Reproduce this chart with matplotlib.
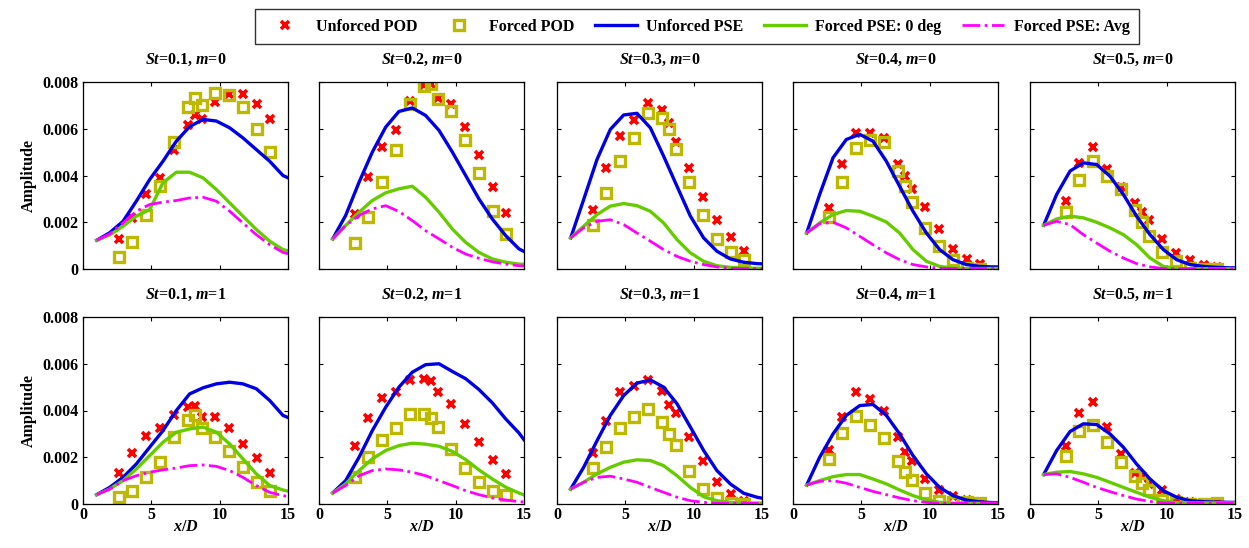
import numpy as np
import matplotlib
matplotlib.use("Agg")
import matplotlib.pyplot as plt

plt.rcParams['font.family'] = ['Liberation Serif', 'DejaVu Serif']
plt.rcParams['font.weight'] = 'bold'
plt.rcParams['mathtext.fontset'] = 'custom'
plt.rcParams['mathtext.rm'] = 'Liberation Serif:bold'
plt.rcParams['mathtext.it'] = 'Liberation Serif:bold:italic'
plt.rcParams['mathtext.bf'] = 'Liberation Serif:bold'

# ---------------- data ----------------
x_pod = [2.63, 3.62, 4.63, 5.63, 6.65, 7.65, 8.17, 8.7, 9.68, 10.7, 11.68, 12.7, 13.7]
x_pse = [1.0, 1.95, 2.93, 3.9, 4.88, 5.85, 6.83, 7.8, 8.78, 9.76, 10.73, 11.7, 12.68, 13.66, 14.63, 15.0]

st_list = ['0.1', '0.2', '0.3', '0.4', '0.5']
m_list = ['0', '1']

# values in units of 1e-3
# m = 0
unf_pod_m0 = [
    [1.29, 2.19, 3.19, 3.90, 5.07, 6.16, 6.60, 6.43, 7.16, 7.47, 7.47, 7.04, 6.43],
    [2.36, 3.93, 5.21, 5.96, 7.19, 7.86, 7.90, 7.30, 7.06, 6.07, 4.89, 3.49, 2.40],
    [2.54, 4.31, 5.71, 6.36, 7.11, 6.79, 6.26, 5.44, 4.30, 3.09, 2.11, 1.37, 0.76],
    [2.61, 4.51, 5.83, 5.83, 5.59, 4.50, 4.00, 3.44, 2.66, 1.71, 0.87, 0.43, 0.23],
    [2.93, 4.54, 5.21, 4.29, 3.51, 2.83, 2.43, 2.09, 1.29, 0.69, 0.40, 0.19, 0.09],
]
for_pod_m0 = [
    [0.50, 1.16, 2.33, 3.57, 5.44, 6.93, 7.33, 7.00, 7.51, 7.44, 6.94, 5.97, 5.00],
    [1.11, 2.23, 3.74, 5.10, 7.04, 7.83, 7.90, 7.29, 6.76, 5.54, 4.10, 2.50, 1.49],
    [1.87, 3.23, 4.64, 5.59, 6.69, 6.47, 6.00, 5.14, 3.71, 2.30, 1.30, 0.73, 0.37],
    [2.23, 3.73, 5.16, 5.50, 5.43, 4.19, 3.57, 2.86, 1.76, 0.97, 0.37, 0.04, 0.00],
    [2.44, 3.80, 4.64, 4.00, 3.44, 2.53, 2.01, 1.40, 0.73, 0.33, 0.04, 0.00, 0.00],
]
unf_pse_m0 = [
    [1.23, 1.55, 2.04, 2.90, 3.83, 4.61, 5.47, 6.09, 6.40, 6.33, 6.04, 5.61, 5.11, 4.61, 4.00, 3.90],
    [1.29, 2.29, 3.71, 5.00, 6.07, 6.74, 6.89, 6.57, 5.93, 5.00, 4.00, 3.00, 2.14, 1.43, 0.86, 0.75],
    [1.33, 2.97, 4.69, 5.97, 6.59, 6.66, 6.04, 4.83, 3.54, 2.26, 1.33, 0.76, 0.43, 0.29, 0.23, 0.22],
    [1.54, 3.19, 4.76, 5.54, 5.76, 5.47, 4.61, 3.54, 2.47, 1.54, 0.83, 0.40, 0.19, 0.11, 0.09, 0.09],
    [1.87, 3.19, 4.19, 4.54, 4.47, 3.97, 3.19, 2.26, 1.47, 0.83, 0.40, 0.19, 0.11, 0.07, 0.05, 0.05],
]
f0_pse_m0 = [
    [1.23, 1.45, 1.83, 2.26, 2.54, 3.69, 4.14, 4.14, 3.90, 3.40, 2.83, 2.26, 1.69, 1.19, 0.83, 0.78],
    [1.29, 1.86, 2.43, 2.93, 3.26, 3.43, 3.54, 3.07, 2.43, 1.71, 1.14, 0.71, 0.43, 0.29, 0.21, 0.20],
    [1.33, 1.83, 2.33, 2.69, 2.80, 2.71, 2.47, 1.97, 1.26, 0.69, 0.33, 0.14, 0.07, 0.04, 0.03, 0.03],
    [1.54, 1.97, 2.33, 2.50, 2.47, 2.26, 2.01, 1.54, 0.83, 0.33, 0.11, 0.04, 0.02, 0.02, 0.02, 0.02],
    [1.87, 2.14, 2.26, 2.19, 2.00, 1.76, 1.47, 1.04, 0.47, 0.11, 0.02, 0.01, 0.01, 0.01, 0.01, 0.01],
]
fa_pse_m0 = [
    [1.23, 1.50, 1.97, 2.47, 2.76, 2.86, 2.93, 3.04, 3.07, 2.90, 2.47, 1.97, 1.47, 1.04, 0.71, 0.65],
    [1.29, 1.86, 2.29, 2.57, 2.71, 2.46, 2.07, 1.64, 1.29, 0.93, 0.64, 0.46, 0.31, 0.21, 0.14, 0.13],
    [1.33, 1.76, 2.04, 2.11, 1.90, 1.54, 1.19, 0.83, 0.54, 0.33, 0.19, 0.09, 0.03, 0.02, 0.02, 0.02],
    [1.54, 1.94, 2.00, 1.76, 1.40, 1.04, 0.69, 0.40, 0.19, 0.09, 0.03, 0.02, 0.02, 0.02, 0.02, 0.02],
    [1.87, 2.04, 1.90, 1.47, 1.11, 0.76, 0.47, 0.23, 0.09, 0.02, 0.01, 0.01, 0.01, 0.01, 0.01, 0.01],
]
# m = 1
unf_pod_m1 = [
    [1.33, 2.17, 2.89, 3.26, 3.81, 4.14, 4.19, 3.74, 3.71, 3.24, 2.57, 1.96, 1.31],
    [2.47, 3.69, 4.54, 4.79, 5.29, 5.33, 5.26, 4.79, 4.26, 3.43, 2.67, 1.90, 1.29],
    [2.19, 3.54, 4.81, 5.03, 5.29, 4.83, 4.24, 3.90, 2.86, 1.83, 0.96, 0.43, 0.14],
    [2.29, 3.74, 4.81, 4.50, 3.96, 2.86, 2.24, 1.83, 1.07, 0.61, 0.36, 0.17, 0.10],
    [2.50, 3.89, 4.36, 3.29, 2.14, 1.31, 1.19, 0.86, 0.61, 0.21, 0.07, 0.04, 0.04],
]
for_pod_m1 = [
    [0.29, 0.57, 1.14, 1.81, 2.86, 3.61, 3.79, 3.24, 2.86, 2.26, 1.60, 0.96, 0.54],
    [1.17, 2.03, 2.74, 3.24, 3.83, 3.86, 3.67, 3.29, 2.36, 1.53, 0.96, 0.54, 0.39],
    [1.53, 2.43, 3.26, 3.74, 4.07, 3.50, 3.00, 2.54, 1.40, 0.64, 0.26, 0.04, 0.00],
    [1.93, 3.04, 3.76, 3.36, 2.83, 1.83, 1.36, 1.03, 0.46, 0.14, 0.07, 0.07, 0.03],
    [2.07, 3.14, 3.39, 2.67, 1.79, 1.19, 0.90, 0.60, 0.19, 0.07, 0.00, 0.00, 0.03],
]
unf_pse_m1 = [
    [0.40, 0.71, 1.14, 1.71, 2.43, 3.14, 4.00, 4.71, 4.97, 5.14, 5.21, 5.14, 4.93, 4.43, 3.79, 3.70],
    [0.47, 1.00, 2.00, 3.14, 4.14, 5.00, 5.64, 5.96, 6.00, 5.67, 5.36, 4.90, 4.33, 3.64, 3.04, 2.75],
    [0.64, 1.57, 2.71, 3.79, 4.64, 5.17, 5.31, 5.00, 4.29, 3.29, 2.29, 1.43, 0.86, 0.46, 0.29, 0.25],
    [0.81, 2.00, 3.00, 3.79, 4.21, 4.26, 3.79, 3.00, 2.07, 1.29, 0.71, 0.36, 0.17, 0.09, 0.06, 0.06],
    [1.26, 2.29, 3.10, 3.43, 3.40, 3.00, 2.43, 1.71, 1.07, 0.57, 0.29, 0.14, 0.10, 0.08, 0.07, 0.07],
]
f0_pse_m1 = [
    [0.40, 0.64, 1.00, 1.50, 2.07, 2.64, 3.07, 3.21, 3.29, 3.07, 2.57, 1.93, 1.29, 0.79, 0.60, 0.55],
    [0.47, 0.86, 1.43, 1.93, 2.29, 2.50, 2.60, 2.56, 2.47, 2.25, 1.90, 1.46, 1.07, 0.72, 0.47, 0.39],
    [0.64, 0.93, 1.29, 1.57, 1.79, 1.89, 1.86, 1.64, 1.21, 0.71, 0.31, 0.14, 0.07, 0.04, 0.04, 0.04],
    [0.81, 1.00, 1.17, 1.26, 1.26, 1.07, 0.86, 0.60, 0.36, 0.17, 0.07, 0.03, 0.03, 0.03, 0.03, 0.03],
    [1.26, 1.36, 1.39, 1.29, 1.14, 0.93, 0.71, 0.50, 0.29, 0.14, 0.06, 0.05, 0.05, 0.05, 0.05, 0.05],
]
fa_pse_m1 = [
    [0.40, 0.64, 1.00, 1.21, 1.36, 1.46, 1.54, 1.64, 1.67, 1.61, 1.43, 1.14, 0.79, 0.50, 0.36, 0.32],
    [0.47, 0.79, 1.21, 1.43, 1.50, 1.46, 1.36, 1.21, 1.00, 0.79, 0.57, 0.40, 0.26, 0.17, 0.10, 0.09],
    [0.64, 0.93, 1.14, 1.19, 1.07, 0.93, 0.71, 0.50, 0.29, 0.14, 0.07, 0.03, 0.03, 0.03, 0.03, 0.03],
    [0.81, 0.97, 1.00, 0.89, 0.71, 0.54, 0.40, 0.26, 0.14, 0.07, 0.03, 0.03, 0.03, 0.03, 0.03, 0.03],
    [1.26, 1.29, 1.14, 0.93, 0.71, 0.53, 0.36, 0.21, 0.11, 0.05, 0.04, 0.04, 0.04, 0.04, 0.04, 0.04],
]

unf_pod = [unf_pod_m0, unf_pod_m1]
for_pod = [for_pod_m0, for_pod_m1]
unf_pse = [unf_pse_m0, unf_pse_m1]
f0_pse = [f0_pse_m0, f0_pse_m1]
fa_pse = [fa_pse_m0, fa_pse_m1]

legend_labels = ['Unforced POD', 'Forced POD', 'Unforced PSE',
                 'Forced PSE: 0 deg', 'Forced PSE: Avg']
yticks = [0, 0.002, 0.004, 0.006, 0.008]
ytick_labels = ['0', '0.002', '0.004', '0.006', '0.008']
xticks = [0, 5, 10, 15]

# ---------------- figure ----------------
W, H = 1249, 548
fig = plt.figure(figsize=(W / 100, H / 100), dpi=100)

lefts = [83, 319, 557, 793, 1030]
aw = 205
rows = [(82, 269), (317, 504)]

c_red = '#ff0000'
c_yel = '#bdb800'
c_blue = '#0000e6'
c_green = '#66cc00'
c_mag = '#ff00ff'

handles = None
for r in range(2):
    top, bot = rows[r]
    for c in range(5):
        ax = fig.add_axes([lefts[c] / W, 1 - bot / H, aw / W, (bot - top) / H])
        s = 1e-3
        h1, = ax.plot(x_pod, np.array(unf_pod[r][c]) * s, 'x', color=c_red,
                      ms=5.5, mew=2.6, ls='none', label=legend_labels[0])
        h2, = ax.plot(x_pod, np.array(for_pod[r][c]) * s, 's', mec=c_yel, mfc='none',
                      ms=7.2, mew=2.4, ls='none', label=legend_labels[1])
        h3, = ax.plot(x_pse, np.array(unf_pse[r][c]) * s, '-', color=c_blue, lw=2.4,
                      label=legend_labels[2])
        h4, = ax.plot(x_pse, np.array(f0_pse[r][c]) * s, '-', color=c_green, lw=2.4,
                      label=legend_labels[3])
        h5, = ax.plot(x_pse, np.array(fa_pse[r][c]) * s, '-.', color=c_mag, lw=2.0,
                      label=legend_labels[4])
        handles = [h1, h2, h3, h4, h5]
        ax.set_xlim(0, 15)
        ax.set_ylim(0, 0.008)
        ax.set_xticks(xticks)
        ax.set_yticks(yticks)
        ax.tick_params(direction='in', top=True, right=True, length=3, width=0.8,
                       labelsize=11.5)
        ax.tick_params(axis='x', pad=2)
        ax.tick_params(axis='y', pad=3)
        for sp in ax.spines.values():
            sp.set_linewidth(0.9)
        if c == 0:
            ax.set_yticklabels(ytick_labels, fontweight='bold')
            ax.set_ylabel('Amplitude', fontsize=11.5, fontweight='bold', labelpad=4)
        else:
            ax.set_yticklabels([])
        if r == 1:
            ax.set_xticklabels([str(v) for v in xticks], fontweight='bold')
            ax.set_xlabel('$x/D$', fontsize=11.5, labelpad=-3)
        else:
            ax.set_xticklabels([])
        ax.set_title('$St$=' + st_list[c] + ', $m$=' + m_list[r],
                     fontsize=11.5, fontweight='bold', pad=13)

leg = fig.legend(handles, legend_labels, loc='upper center', ncol=5,
                 bbox_to_anchor=(697 / W, 1 - 1 / H), frameon=True, fancybox=False,
                 edgecolor='black', fontsize=11.5, handlelength=2.6,
                 columnspacing=1.3, handletextpad=0.6, borderpad=0.6)
leg.get_frame().set_linewidth(1.0)
for t in leg.get_texts():
    t.set_fontweight('bold')

fig.savefig('out.png', dpi=100)
